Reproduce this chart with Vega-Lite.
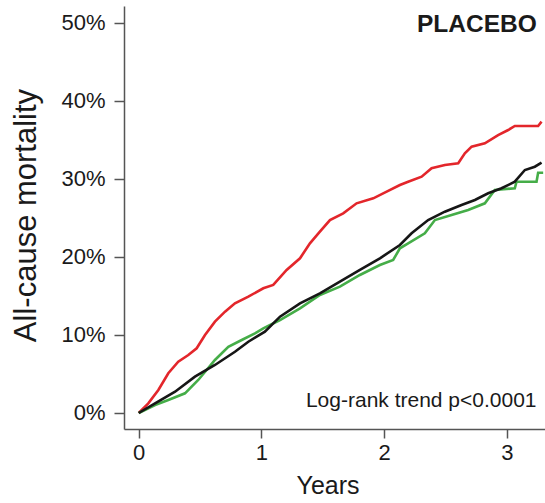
{
  "$schema": "https://vega.github.io/schema/vega-lite/v6.json",
  "width": 421,
  "height": 423,
  "autosize": {"type": "none"},
  "padding": {"left": 124, "top": 6, "right": 0, "bottom": 74},
  "background": "white",
  "config": {
    "view": {"stroke": null},
    "font": "Liberation Sans",
    "axis": {
      "grid": false,
      "domainColor": "#555555",
      "domainWidth": 1.5,
      "tickColor": "#555555",
      "tickWidth": 1.5,
      "labelColor": "#1a1a1a",
      "titleColor": "#1a1a1a",
      "labelFont": "Liberation Sans",
      "titleFont": "Liberation Sans",
      "titleFontWeight": "normal"
    }
  },
  "datasets": {
    "curves": [
      {"group": "red", "years": 0.0, "mortality": 0.0},
      {"group": "red", "years": 0.078, "mortality": 0.0124},
      {"group": "red", "years": 0.16, "mortality": 0.0295},
      {"group": "red", "years": 0.241, "mortality": 0.0509},
      {"group": "red", "years": 0.322, "mortality": 0.0657},
      {"group": "red", "years": 0.404, "mortality": 0.0743},
      {"group": "red", "years": 0.472, "mortality": 0.0829},
      {"group": "red", "years": 0.54, "mortality": 0.0999},
      {"group": "red", "years": 0.621, "mortality": 0.117},
      {"group": "red", "years": 0.703, "mortality": 0.1298},
      {"group": "red", "years": 0.784, "mortality": 0.1405},
      {"group": "red", "years": 0.893, "mortality": 0.149},
      {"group": "red", "years": 1.015, "mortality": 0.1598},
      {"group": "red", "years": 1.096, "mortality": 0.164},
      {"group": "red", "years": 1.205, "mortality": 0.1832},
      {"group": "red", "years": 1.314, "mortality": 0.1982},
      {"group": "red", "years": 1.395, "mortality": 0.2174},
      {"group": "red", "years": 1.476, "mortality": 0.2323},
      {"group": "red", "years": 1.558, "mortality": 0.2472},
      {"group": "red", "years": 1.666, "mortality": 0.2558},
      {"group": "red", "years": 1.775, "mortality": 0.2686},
      {"group": "red", "years": 1.911, "mortality": 0.275},
      {"group": "red", "years": 2.02, "mortality": 0.2835},
      {"group": "red", "years": 2.128, "mortality": 0.2921},
      {"group": "red", "years": 2.195, "mortality": 0.2963},
      {"group": "red", "years": 2.305, "mortality": 0.3027},
      {"group": "red", "years": 2.386, "mortality": 0.3135},
      {"group": "red", "years": 2.494, "mortality": 0.3177},
      {"group": "red", "years": 2.603, "mortality": 0.3199},
      {"group": "red", "years": 2.657, "mortality": 0.3327},
      {"group": "red", "years": 2.712, "mortality": 0.3412},
      {"group": "red", "years": 2.82, "mortality": 0.3455},
      {"group": "red", "years": 2.928, "mortality": 0.3561},
      {"group": "red", "years": 3.01, "mortality": 0.3625},
      {"group": "red", "years": 3.064, "mortality": 0.3677},
      {"group": "red", "years": 3.254, "mortality": 0.3677},
      {"group": "red", "years": 3.282, "mortality": 0.3732},
      {"group": "green", "years": 0.0, "mortality": 0.0},
      {"group": "green", "years": 0.133, "mortality": 0.0102},
      {"group": "green", "years": 0.241, "mortality": 0.0167},
      {"group": "green", "years": 0.377, "mortality": 0.0252},
      {"group": "green", "years": 0.485, "mortality": 0.0423},
      {"group": "green", "years": 0.621, "mortality": 0.0679},
      {"group": "green", "years": 0.73, "mortality": 0.0849},
      {"group": "green", "years": 0.839, "mortality": 0.0935},
      {"group": "green", "years": 0.947, "mortality": 0.1021},
      {"group": "green", "years": 1.015, "mortality": 0.1085},
      {"group": "green", "years": 1.151, "mortality": 0.1191},
      {"group": "green", "years": 1.314, "mortality": 0.1341},
      {"group": "green", "years": 1.476, "mortality": 0.1512},
      {"group": "green", "years": 1.639, "mortality": 0.1618},
      {"group": "green", "years": 1.802, "mortality": 0.1768},
      {"group": "green", "years": 1.965, "mortality": 0.1896},
      {"group": "green", "years": 2.073, "mortality": 0.196},
      {"group": "green", "years": 2.128, "mortality": 0.211},
      {"group": "green", "years": 2.195, "mortality": 0.2174},
      {"group": "green", "years": 2.331, "mortality": 0.2302},
      {"group": "green", "years": 2.413, "mortality": 0.2472},
      {"group": "green", "years": 2.549, "mortality": 0.2537},
      {"group": "green", "years": 2.684, "mortality": 0.2601},
      {"group": "green", "years": 2.82, "mortality": 0.2686},
      {"group": "green", "years": 2.901, "mortality": 0.2857},
      {"group": "green", "years": 3.064, "mortality": 0.2879},
      {"group": "green", "years": 3.078, "mortality": 0.2963},
      {"group": "green", "years": 3.241, "mortality": 0.2963},
      {"group": "green", "years": 3.254, "mortality": 0.3078},
      {"group": "green", "years": 3.295, "mortality": 0.3078},
      {"group": "black", "years": 0.0, "mortality": 0.0},
      {"group": "black", "years": 0.133, "mortality": 0.0124},
      {"group": "black", "years": 0.296, "mortality": 0.0273},
      {"group": "black", "years": 0.458, "mortality": 0.0465},
      {"group": "black", "years": 0.621, "mortality": 0.0615},
      {"group": "black", "years": 0.784, "mortality": 0.0785},
      {"group": "black", "years": 0.893, "mortality": 0.0913},
      {"group": "black", "years": 1.028, "mortality": 0.1042},
      {"group": "black", "years": 1.151, "mortality": 0.1234},
      {"group": "black", "years": 1.314, "mortality": 0.1405},
      {"group": "black", "years": 1.476, "mortality": 0.1533},
      {"group": "black", "years": 1.639, "mortality": 0.1682},
      {"group": "black", "years": 1.802, "mortality": 0.1832},
      {"group": "black", "years": 1.965, "mortality": 0.1982},
      {"group": "black", "years": 2.128, "mortality": 0.2152},
      {"group": "black", "years": 2.223, "mortality": 0.2302},
      {"group": "black", "years": 2.358, "mortality": 0.2472},
      {"group": "black", "years": 2.494, "mortality": 0.2579},
      {"group": "black", "years": 2.63, "mortality": 0.2665},
      {"group": "black", "years": 2.739, "mortality": 0.2729},
      {"group": "black", "years": 2.847, "mortality": 0.2815},
      {"group": "black", "years": 2.956, "mortality": 0.2879},
      {"group": "black", "years": 3.064, "mortality": 0.2963},
      {"group": "black", "years": 3.146, "mortality": 0.3113},
      {"group": "black", "years": 3.227, "mortality": 0.3155},
      {"group": "black", "years": 3.282, "mortality": 0.3207}
    ],
    "notes": [
      {"label": "PLACEBO", "years": 3.243, "mortality": 0.4885, "kind": "head"},
      {"label": "Log-rank trend p<0.0001", "years": 3.241, "mortality": 0.0081, "kind": "note"}
    ]
  },
  "layer": [
    {
      "data": {"name": "curves"},
      "mark": {"type": "line", "strokeWidth": 2.6, "interpolate": "linear", "clip": true},
      "encoding": {
        "x": {
          "field": "years", "type": "quantitative",
          "scale": {"domain": [-0.12, 3.31], "nice": false, "zero": false},
          "axis": {
            "values": [0, 1, 2, 3],
            "title": "Years",
            "titleFontSize": 25,
            "titleX": 203.5,
            "titleY": 64,
            "titleBaseline": "alphabetic",
            "titleAlign": "center",
            "labelFontSize": 22,
            "labelPadding": 4,
            "tickSize": 9,
            "format": "d"
          }
        },
        "y": {
          "field": "mortality", "type": "quantitative",
          "scale": {"domain": [-0.0205, 0.5214], "nice": false, "zero": false},
          "axis": {
            "values": [0, 0.1, 0.2, 0.3, 0.4, 0.5],
            "format": ".0%",
            "title": "All-cause mortality",
            "titleFontSize": 31,
            "titleAngle": -90,
            "titleX": -89,
            "titleY": 209,
            "titleBaseline": "alphabetic",
            "titleAlign": "center",
            "labelFontSize": 22,
            "labelPadding": 9,
            "tickSize": 10
          }
        },
        "color": {
          "field": "group", "type": "nominal",
          "scale": {"domain": ["red", "green", "black"], "range": ["#e3262b", "#45ad48", "#161616"]},
          "legend": null
        },
        "order": {"field": "years", "type": "quantitative"}
      }
    },
    {
      "data": {"name": "notes"},
      "transform": [{"filter": "datum.kind === 'head'"}],
      "mark": {"type": "text", "align": "right", "baseline": "alphabetic", "fontSize": 24.5, "fontWeight": "bold", "font": "Liberation Sans", "color": "#1a1a1a"},
      "encoding": {
        "x": {"field": "years", "type": "quantitative"},
        "y": {"field": "mortality", "type": "quantitative"},
        "text": {"field": "label"}
      }
    },
    {
      "data": {"name": "notes"},
      "transform": [{"filter": "datum.kind === 'note'"}],
      "mark": {"type": "text", "align": "right", "baseline": "alphabetic", "fontSize": 21, "font": "Liberation Sans", "color": "#1a1a1a"},
      "encoding": {
        "x": {"field": "years", "type": "quantitative"},
        "y": {"field": "mortality", "type": "quantitative"},
        "text": {"field": "label"}
      }
    }
  ]
}
